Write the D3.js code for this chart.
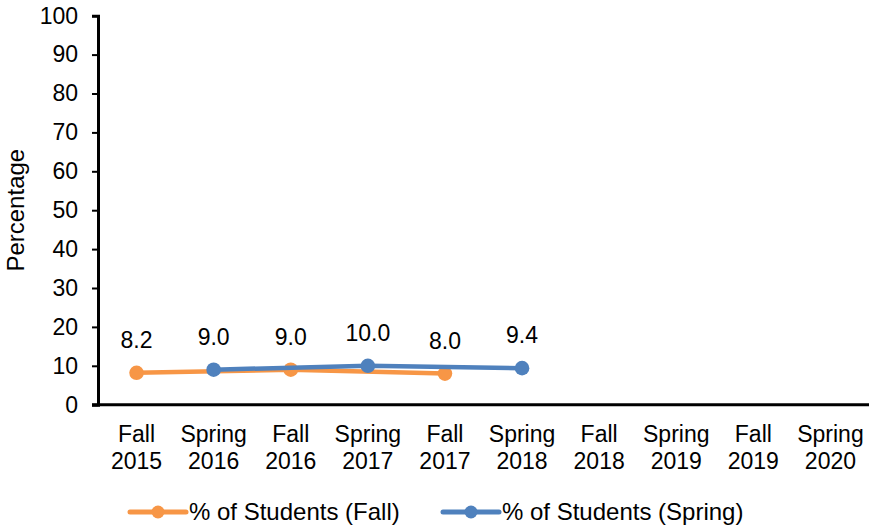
<!DOCTYPE html>
<html>
<head>
<meta charset="utf-8">
<script src="https://cdn.jsdelivr.net/npm/d3@7"></script>
<style>
  body { margin: 0; background: #fff; }
  text { font-family: "Liberation Sans", Arial, sans-serif; fill: #000; }
</style>
</head>
<body>
<svg id="chart" width="869" height="526"></svg>
<script>
// categories along the x axis (two-line labels)
var categories = ["Fall 2015", "Spring 2016", "Fall 2016", "Spring 2017", "Fall 2017",
                  "Spring 2018", "Fall 2018", "Spring 2019", "Fall 2019", "Spring 2020"];
var fallCats = ["Fall 2015", "Fall 2016", "Fall 2017"];
var fallValues = [8.2, 9.0, 8.0];
var springCats = ["Spring 2016", "Spring 2017", "Spring 2018"];
var springValues = [9.0, 10.0, 9.4];
var yTicks = [0, 10, 20, 30, 40, 50, 60, 70, 80, 90, 100];

var svg = d3.select("#chart");
var mLeft = 98, mRight = 869, mTop = 15.7, mBottom = 404.7;
var fs = 23;

var x = d3.scaleBand().domain(categories).range([mLeft, mRight]);
var y = d3.scaleLinear().domain([0, 100]).range([mBottom, mTop]);

// y axis
var yAxis = svg.append("g")
    .attr("transform", "translate(" + mLeft + ",0)")
    .call(d3.axisLeft(y).tickValues(yTicks).tickSize(6).tickPadding(14));
yAxis.select(".domain").attr("stroke", "#000").attr("stroke-width", 3);
yAxis.selectAll(".tick line").attr("stroke", "#000").attr("stroke-width", 2);
yAxis.selectAll(".tick text").attr("font-size", fs).attr("font-family", "Liberation Sans, Arial, sans-serif").attr("fill", "#000");

// x axis line
svg.append("line")
    .attr("x1", mLeft - 6).attr("x2", mRight)
    .attr("y1", y(0)).attr("y2", y(0))
    .attr("stroke", "#000").attr("stroke-width", 3);

// x category labels
var xl = svg.append("g").selectAll("text")
    .data(categories)
  .enter().append("text")
    .attr("text-anchor", "middle")
    .attr("font-size", fs);
xl.append("tspan")
    .attr("x", function(d) { return x(d) + x.bandwidth() / 2; })
    .attr("y", 442)
    .text(function(d) { return d.split(" ")[0]; });
xl.append("tspan")
    .attr("x", function(d) { return x(d) + x.bandwidth() / 2; })
    .attr("y", 468.5)
    .text(function(d) { return d.split(" ")[1]; });

// y title
svg.append("text")
    .attr("transform", "translate(24," + ((mTop + mBottom) / 2) + ") rotate(-90)")
    .attr("text-anchor", "middle")
    .attr("font-size", 24)
    .text("Percentage");

var series = [
  { name: "% of Students (Fall)", cats: fallCats, values: fallValues, color: "#F79646" },
  { name: "% of Students (Spring)", cats: springCats, values: springValues, color: "#4F81BD" }
];

var line = d3.line()
    .x(function(d) { return x(d.cat) + x.bandwidth() / 2; })
    .y(function(d) { return y(d.v); });

series.forEach(function(s) {
  var pts = s.cats.map(function(c, i) { return { cat: c, v: s.values[i] }; });
  var g = svg.append("g");
  g.append("path")
      .datum(pts)
      .attr("d", line)
      .attr("fill", "none")
      .attr("stroke", s.color)
      .attr("stroke-width", 4.5)
      .attr("stroke-linejoin", "round");
  g.selectAll("circle")
      .data(pts)
    .enter().append("circle")
      .attr("cx", function(d) { return x(d.cat) + x.bandwidth() / 2; })
      .attr("cy", function(d) { return y(d.v); })
      .attr("r", 7.3)
      .attr("fill", s.color);
  g.selectAll("text.lbl")
      .data(pts)
    .enter().append("text")
      .attr("class", "lbl")
      .attr("text-anchor", "middle")
      .attr("font-size", fs)
      .attr("x", function(d) { return x(d.cat) + x.bandwidth() / 2; })
      .attr("y", function(d) { return y(d.v) - 25; })
      .text(function(d) { return d.v.toFixed(1); });
});

// legend
var legendX = [130, 443];
var leg = svg.append("g").selectAll("g")
    .data(series)
  .enter().append("g")
    .attr("transform", function(d, i) { return "translate(" + legendX[i] + ",512)"; });
leg.append("line")
    .attr("x1", 0).attr("x2", 56)
    .attr("stroke", function(d) { return d.color; })
    .attr("stroke-width", 5)
    .attr("stroke-linecap", "round");
leg.append("circle")
    .attr("cx", 28).attr("r", 6.5)
    .attr("fill", function(d) { return d.color; });
leg.append("text")
    .attr("x", 59).attr("y", 8)
    .attr("font-size", 24)
    .text(function(d) { return d.name; });
</script>
</body>
</html>
